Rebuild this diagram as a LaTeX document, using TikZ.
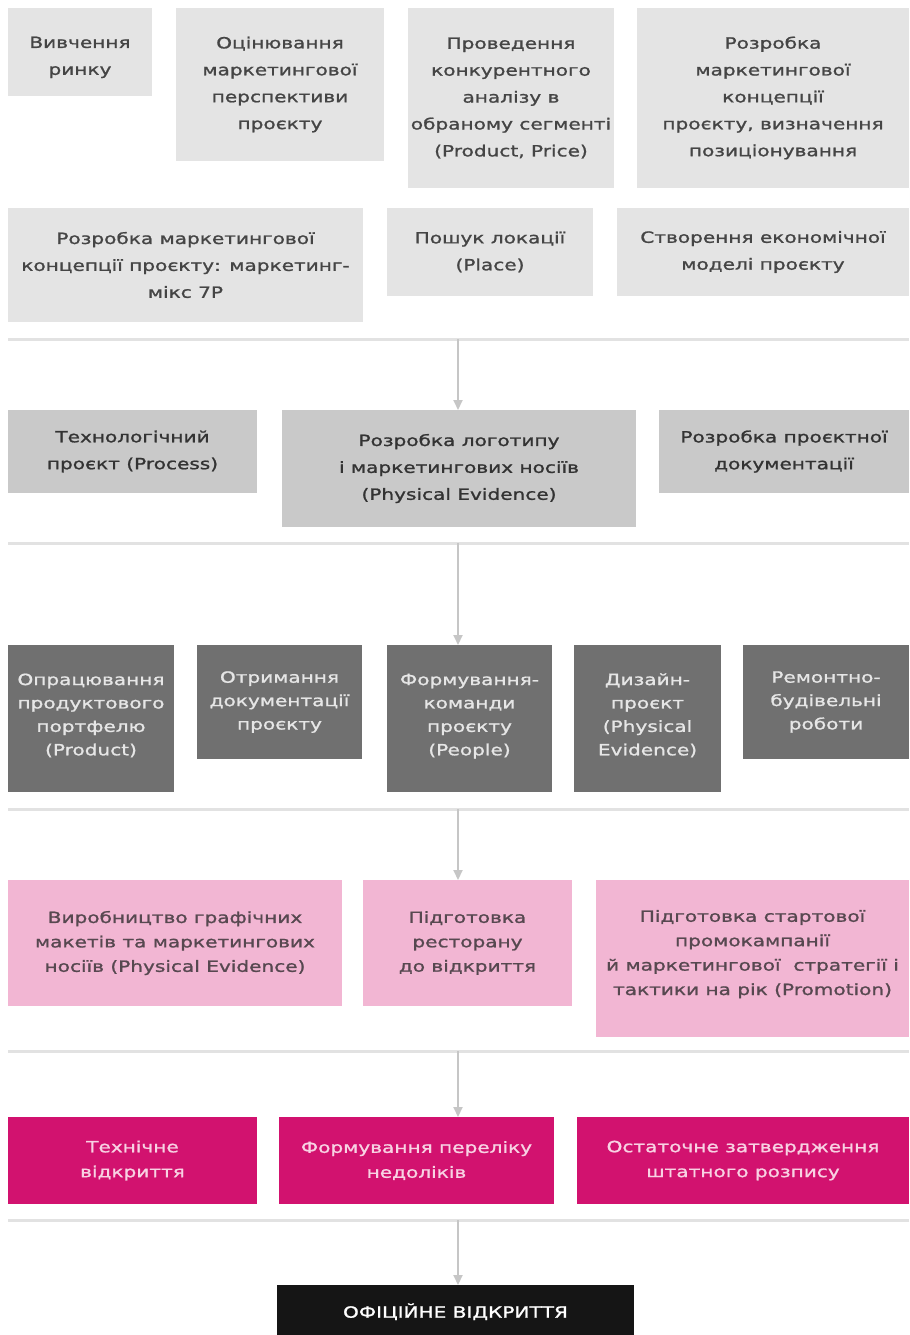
\documentclass[tikz,border=0pt]{standalone}
\usepackage{fontspec}
\setmainfont{DejaVu Sans}[FakeStretch=1.3, FakeBold=1.2]
\usetikzlibrary{arrows.meta}
\definecolor{cLight}{HTML}{E4E4E4}
\definecolor{tLight}{HTML}{454545}
\definecolor{cMid}{HTML}{C9C9C9}
\definecolor{tMid}{HTML}{333333}
\definecolor{cDark}{HTML}{707070}
\definecolor{tDark}{HTML}{E6E6E6}
\definecolor{cPink}{HTML}{F2B6D3}
\definecolor{tPink}{HTML}{574850}
\definecolor{cMag}{HTML}{D2126F}
\definecolor{tMag}{HTML}{F8D2E3}
\definecolor{cBlack}{HTML}{151515}
\definecolor{cSep}{HTML}{E2E2E2}
\definecolor{cArr}{HTML}{C6C6C6}
\newcommand{\bx}[7]{%
  \pgfmathsetmacro{\bw}{#5-#3}\pgfmathsetmacro{\bh}{#6-#4}%
  \node[#2, minimum width=\bw bp, minimum height=\bh bp, anchor=north west] (#1) at (#3,#4) {#7};}
\newcommand{\mvtext}[2]{\raisebox{#1}[\height][\depth]{\begin{tabular}{@{}c@{}}#2\end{tabular}}}
\begin{document}
\begin{tikzpicture}[x={(1bp,0bp)}, y={(0bp,-1bp)},
  base/.style={inner sep=0pt, outer sep=0pt, align=center, draw=none},
  lightbox/.style={base, fill=cLight, text=tLight, font={\fontsize{15.5}{27}\selectfont}},
  midbox/.style={base, fill=cMid, text=tMid, font={\fontsize{15.5}{27}\selectfont}},
  darkbox/.style={base, fill=cDark, text=tDark, font={\fontsize{15.5}{23.5}\selectfont}},
  pinkbox/.style={base, fill=cPink, text=tPink, font={\fontsize{15.5}{24.5}\selectfont}},
  magbox/.style={base, fill=cMag, text=tMag, font={\fontsize{15.5}{25}\selectfont}},
  blackbox/.style={base, fill=cBlack, text=white, font={\fontsize{15.5}{25}\selectfont}},
  sepline/.style={draw=cSep, line width=3bp},
  arr/.style={draw=cArr, line width=2bp, -{Triangle[length=10bp,width=9bp]}}
]
\useasboundingbox (0,0) rectangle (909,1335);
\fill[white] (0,0) rectangle (909,1335);

% Row 1
\bx{b11}{lightbox}{8}{8}{152}{96}{\mvtext{-4bp}{Вивчення\\ринку}}
\bx{b12}{lightbox}{176}{8}{384}{161}{Оцінювання\\маркетингової\\перспективи\\проєкту}
\bx{b13}{lightbox}{408}{8}{614}{188}{Проведення\\конкурентного\\аналізу в\\обраному сегменті\\(Product, Price)}
\bx{b14}{lightbox}{637}{8}{909}{188}{Розробка\\маркетингової\\концепції\\проєкту, визначення\\позиціонування}
% Row 2
\bx{b21}{lightbox}{8}{208}{363}{322}{Розробка маркетингової\\концепції проєкту: маркетинг-\\мікс 7P}
\bx{b22}{lightbox}{387}{208}{593}{296}{Пошук локації\\(Place)}
\bx{b23}{lightbox}{617}{208}{909}{296}{Створення економічної\\моделі проєкту}

% separator 1
\coordinate (s1l) at (8,339); \coordinate (s1r) at (909,339); \coordinate (s1) at (458,339);
\draw[sepline] (s1l) -- (s1r);

% Row 3
\bx{b31}{midbox}{8}{410}{257}{493}{Технологічний\\проєкт (Process)}
\bx{b32}{midbox}{282}{410}{636}{527}{Розробка логотипу\\і маркетингових носіїв\\(Physical Evidence)}
\bx{b33}{midbox}{659}{410}{909}{493}{Розробка проєктної\\документації}

\coordinate (s2l) at (8,543); \coordinate (s2r) at (909,543); \coordinate (s2) at (458,543);
\draw[sepline] (s2l) -- (s2r);

% Row 4
\bx{b41}{darkbox}{8}{645}{174}{792}{\mvtext{3bp}{Опрацювання\\продуктового\\портфелю\\(Product)}}
\bx{b42}{darkbox}{197}{645}{362}{759}{Отримання\\документації\\проєкту}
\bx{b43}{darkbox}{387}{645}{552}{792}{\mvtext{3bp}{Формування-\\команди\\проєкту\\(People)}}
\bx{b44}{darkbox}{574}{645}{721}{792}{\mvtext{3bp}{Дизайн-\\проєкт\\(Physical\\Evidence)}}
\bx{b45}{darkbox}{743}{645}{909}{759}{Ремонтно-\\будівельні\\роботи}

\coordinate (s3l) at (8,809); \coordinate (s3r) at (909,809); \coordinate (s3) at (458,809);
\draw[sepline] (s3l) -- (s3r);

% Row 5
\bx{b51}{pinkbox}{8}{880}{342}{1006}{Виробництво графічних\\макетів та маркетингових\\носіїв (Physical Evidence)}
\bx{b52}{pinkbox}{363}{880}{572}{1006}{Підготовка\\ресторану\\до відкриття}
\bx{b53}{pinkbox}{596}{880}{909}{1037}{\mvtext{5bp}{Підготовка стартової\\промокампанії\\й маркетингової\ \ стратегії і\\тактики на рік (Promotion)}}

\coordinate (s4l) at (8,1051); \coordinate (s4r) at (909,1051); \coordinate (s4) at (458,1051);
\draw[sepline] (s4l) -- (s4r);

% Row 6
\bx{b61}{magbox}{8}{1117}{257}{1204}{Технічне\\відкриття}
\bx{b62}{magbox}{279}{1117}{554}{1204}{Формування переліку\\недоліків}
\bx{b63}{magbox}{577}{1117}{909}{1204}{Остаточне затвердження\\штатного розпису}

\coordinate (s5l) at (8,1220); \coordinate (s5r) at (909,1220); \coordinate (s5) at (458,1220);
\draw[sepline] (s5l) -- (s5r);

% Final
\bx{fin}{blackbox}{277}{1285}{634}{1340}{\raisebox{4bp}{ОФІЦІЙНЕ ВІДКРИТТЯ}}

% arrows
\draw[arr] (s1) -- (s1 |- b32.north);
\draw[arr] (s2) -- (s2 |- b43.north);
\draw[arr] (s3) -- (s3 |- b52.north);
\draw[arr] (s4) -- (s4 |- b62.north);
\draw[arr] (s5) -- (s5 |- fin.north);
\end{tikzpicture}
\end{document}
